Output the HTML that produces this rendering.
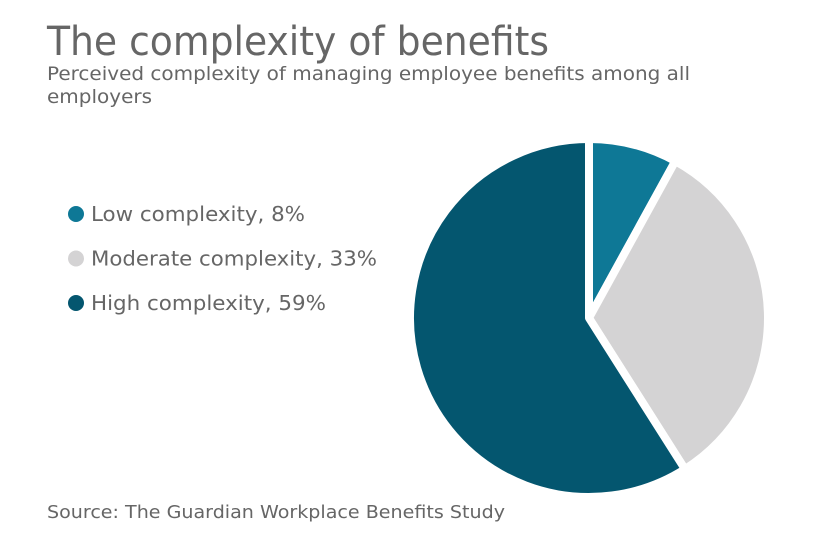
<!DOCTYPE html>
<html><head><meta charset="utf-8"><style>
html,body{margin:0;padding:0;background:#fff;}
svg{display:block;font-family:"DejaVu Sans","Liberation Sans",sans-serif;}
</style></head><body>
<svg width="840" height="547" viewBox="0 0 840 547">
<text x="47" y="55" font-size="40" fill="#666" textLength="502" lengthAdjust="spacingAndGlyphs">The complexity of benefits</text>
<text x="47" y="80" font-size="19" fill="#666" textLength="643" lengthAdjust="spacingAndGlyphs">Perceived complexity of managing employee benefits among all</text>
<text x="47" y="103" font-size="19" fill="#666" textLength="105" lengthAdjust="spacingAndGlyphs">employers</text>
<g id="legend"></g>
<g id="slices"></g>
<text x="47" y="518" font-size="18" fill="#666" textLength="458" lengthAdjust="spacingAndGlyphs">Source: The Guardian Workplace Benefits Study</text>
</svg>
<script>
const categories = ["Low complexity", "Moderate complexity", "High complexity"];
const values = [8, 33, 59];
const colors = ["#0e7896", "#d4d3d4", "#04566f"];
const legendWidths = [214, 286, 235];
const NS = "http://www.w3.org/2000/svg";
const cx = 589, cy = 318, r = 179;
const total = values.reduce((a,b)=>a+b,0);
const sg = document.getElementById("slices");
let a0 = 0;
values.forEach((v,i)=>{
  const a1 = a0 + v/total*2*Math.PI;
  const x0 = cx + r*Math.sin(a0), y0 = cy - r*Math.cos(a0);
  const x1 = cx + r*Math.sin(a1), y1 = cy - r*Math.cos(a1);
  const large = (a1-a0) > Math.PI ? 1 : 0;
  const p = document.createElementNS(NS,"path");
  p.setAttribute("d",`M${cx},${cy} L${x0},${y0} A${r},${r} 0 ${large} 1 ${x1},${y1} Z`);
  p.setAttribute("fill",colors[i]);
  p.setAttribute("stroke","#fff");
  p.setAttribute("stroke-width","8");
  p.setAttribute("stroke-linejoin","round");
  
  
  sg.appendChild(p);
  a0 = a1;
});
const lg = document.getElementById("legend");
categories.forEach((c,i)=>{
  const y = 214 + i*44.5;
  const dot = document.createElementNS(NS,"circle");
  dot.setAttribute("cx",76); dot.setAttribute("cy",y); dot.setAttribute("r",8);
  dot.setAttribute("fill",colors[i]);
  
  
  lg.appendChild(dot);
  const t = document.createElementNS(NS,"text");
  t.setAttribute("x",91); t.setAttribute("y",y+7);
  t.setAttribute("font-size","20"); t.setAttribute("fill","#666");
  t.setAttribute("textLength",legendWidths[i]);
  t.setAttribute("lengthAdjust","spacingAndGlyphs");
  t.textContent = c + ", " + values[i] + "%";
  
  
  lg.appendChild(t);
});
</script>
</body></html>
